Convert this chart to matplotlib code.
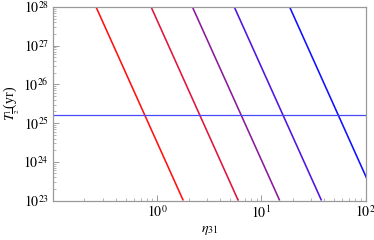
import matplotlib
matplotlib.use("Agg")
import matplotlib.pyplot as plt
from matplotlib.ticker import LogLocator, NullFormatter

# Each line: eta values at T = 1e28 (top) and T = 1e23 (bottom)
T_ends = [1e28, 1e23]
eta_line1 = [0.259, 1.78]
eta_line2 = [0.875, 6.0]
eta_line3 = [2.18, 15.0]
eta_line4 = [5.5, 37.8]
eta_line5 = [18.7, 128.0]
lines = [eta_line1, eta_line2, eta_line3, eta_line4, eta_line5]
colors = ["#ff1010", "#e0143c", "#8a1a9a", "#5014e0", "#1010ff"]
T_limit = 1.6e25

plt.rcParams['mathtext.fontset'] = 'stix'
plt.rcParams['font.family'] = ['Liberation Serif', 'DejaVu Serif']

fig = plt.figure(figsize=(3.74, 2.40), dpi=100)
ax = fig.add_axes([53/374, 1-200.5/240, (365.5-53)/374, (200.5-7)/240])

for eta, c in zip(lines, colors):
    ax.plot(eta, T_ends, color=c, lw=1.15, solid_capstyle='butt')
ax.axhline(T_limit, color="#4848ff", lw=0.9)

ax.set_xscale('log')
ax.set_yscale('log')
ax.set_xlim(0.1, 100)
ax.set_ylim(1e23, 1e28)

for s in ax.spines.values():
    s.set_color('#999999')
    s.set_linewidth(0.9)

ax.xaxis.set_minor_locator(LogLocator(base=10, subs=range(2, 10), numticks=20))
ax.yaxis.set_minor_locator(LogLocator(base=10, subs=range(2, 10), numticks=20))
ax.xaxis.set_minor_formatter(NullFormatter())
ax.yaxis.set_minor_formatter(NullFormatter())
ax.set_xticks([1, 10, 100])
ax.set_xticklabels([r'$10^{0}$', r'$10^{1}$', r'$10^{2}$'])
ax.set_yticks([1e23, 1e24, 1e25, 1e26, 1e27, 1e28])
ax.set_yticklabels([r'$10^{%d}$' % k for k in range(23, 29)])
ax.tick_params(which='both', direction='in', color='#999999', top=False, right=False,
               labelsize=10, pad=3)
ax.tick_params(which='major', length=4, width=0.7)
ax.tick_params(which='minor', length=2, width=0.5)

ax.set_xlabel(r'$\eta_{31}$', fontsize=10, labelpad=2)
ax.set_ylabel(r'$T_{\frac{1}{2}}$(yr)', fontsize=10, labelpad=1)

fig.savefig('out.png', dpi=100)
